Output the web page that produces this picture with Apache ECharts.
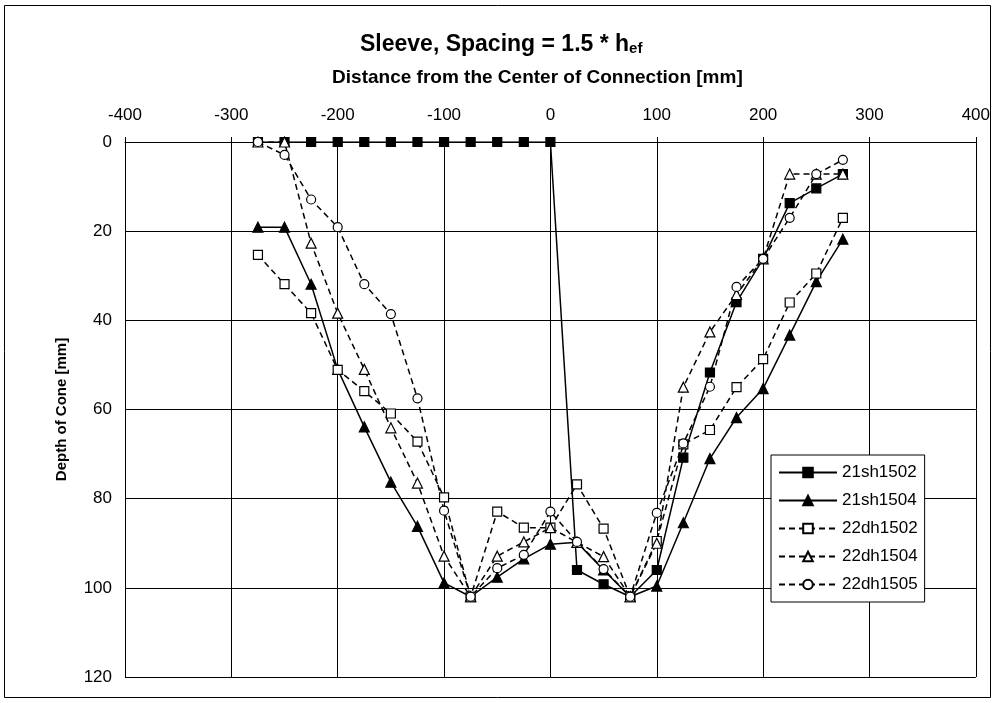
<!DOCTYPE html>
<html>
<head>
<meta charset="utf-8">
<script src="https://cdn.jsdelivr.net/npm/echarts@6/dist/echarts.min.js"></script>
<style>
  html, body { margin: 0; padding: 0; background: #ffffff; }
  #chart { width: 993px; height: 703px; }
</style>
</head>
<body>
<div id="chart"></div>
<script>
// Distance from the center of the connection [mm]
const distances = [-275, -250, -225, -200, -175, -150, -125, -100, -75, -50, -25, 0,
                   25, 50, 75, 100, 125, 150, 175, 200, 225, 250, 275];

// Depth of the cone [mm] for each test
const depth21sh1502 = [0, 0, 0, 0, 0, 0, 0, 0, 0, 0, 0, 0,
                       96, 99.2, 102, 96, 70.8, 51.7, 35.9, 26.2, 13.7, 10.4, 7.2];
const depth21sh1504 = [19.1, 19.1, 31.9, 51, 63.9, 76.3, 86.2, 98.9, 102, 97.6, 93.5, 90.2,
                       89.8, 96, 102, 99.6, 85.4, 71, 61.8, 55.3, 43.3, 31.3, 21.8];
const depth22dh1502 = [25.3, 31.9, 38.4, 51.1, 55.9, 60.9, 67.2, 79.7, 102, 82.9, 86.5, 86.5,
                       76.8, 86.7, 102, 89.5, 67.8, 64.6, 55, 48.7, 36, 29.5, 17];
const depth22dh1504 = [0, 0, 22.7, 38.4, 51, 64.1, 76.5, 92.9, 102, 92.9, 89.7, 86.5,
                       89.8, 93, 102, 90, 55, 42.6, 34.2, 26.2, 7.2, 7.2, 7.2];
const depth22dh1505 = [0, 2.9, 12.9, 19.1, 31.9, 38.6, 57.5, 82.7, 102, 95.6, 92.6, 82.9,
                       89.7, 95.8, 102, 83.2, 67.6, 54.9, 32.5, 26.2, 17, 7.2, 4];

const seriesNames = ['21sh1502', '21sh1504', '22dh1502', '22dh1504', '22dh1505'];

const FONT = 'Liberation Sans, Arial, Helvetica, sans-serif';

function pairs(values) {
  return distances.map((d, i) => [d, values[i]]);
}

function makeSeries(name, values, symbol, size, filled, dashed) {
  return {
    name: name,
    type: 'line',
    data: pairs(values),
    symbol: symbol,
    symbolSize: size,
    showAllSymbol: true,
    animation: false,
    lineStyle: { color: '#000', width: 1.5, type: dashed ? [6, 4] : 'solid' },
    itemStyle: { color: filled ? '#000' : '#fff', borderColor: '#000', borderWidth: 1.2 },
    emphasis: { disabled: true }
  };
}

const chart = echarts.init(document.getElementById('chart'), null, { renderer: 'canvas' });

chart.setOption({
  backgroundColor: '#ffffff',
  animation: false,
  textStyle: { fontFamily: FONT, color: '#000' },
  title: {
    text: '{a|Sleeve, Spacing = 1.5 * h}{b|ef}',
    left: 360,
    top: 29,
    padding: 0,
    textStyle: {
      rich: {
        a: { fontFamily: FONT, fontSize: 23, fontWeight: 'bold', color: '#000', lineHeight: 27, verticalAlign: 'bottom' },
        b: { fontFamily: FONT, fontSize: 15, fontWeight: 'bold', color: '#000', lineHeight: 15, verticalAlign: 'bottom' }
      }
    }
  },
  grid: { left: 125, top: 142, right: 16, bottom: 26, containLabel: false },
  legend: {
    data: seriesNames,
    orient: 'vertical',
    left: 771,
    top: 455,
    padding: [9, 7, 9, 7],
    itemWidth: 58,
    itemHeight: 12,
    itemGap: 11,
    backgroundColor: '#fff',
    borderColor: '#000',
    borderWidth: 1,
    borderRadius: 0,
    selectedMode: false,
    textStyle: { fontFamily: FONT, fontSize: 17, color: '#000' }
  },
  xAxis: {
    type: 'value',
    position: 'top',
    min: -400,
    max: 400,
    interval: 100,
    name: 'Distance from the Center of Connection [mm]',
    nameLocation: 'middle',
    nameGap: 55,
    nameTextStyle: { fontFamily: FONT, fontSize: 19, fontWeight: 'bold', color: '#000', padding: [0, 26, 0, 0] },
    axisLine: { show: true, lineStyle: { color: '#000', width: 1 } },
    axisTick: { show: true, inside: false, length: 5, lineStyle: { color: '#000' } },
    axisLabel: { fontFamily: FONT, fontSize: 17, color: '#000', margin: 18 },
    splitLine: { show: true, lineStyle: { color: '#000', width: 1 } }
  },
  yAxis: {
    type: 'value',
    inverse: true,
    min: 0,
    max: 120,
    interval: 20,
    name: 'Depth of Cone [mm]',
    nameLocation: 'middle',
    nameGap: 56,
    nameRotate: 90,
    nameTextStyle: { fontFamily: FONT, fontSize: 15, fontWeight: 'bold', color: '#000' },
    axisLine: { show: true, lineStyle: { color: '#000', width: 1 } },
    axisTick: { show: true, inside: false, length: 6, lineStyle: { color: '#000' } },
    axisLabel: { fontFamily: FONT, fontSize: 17, color: '#000', margin: 13 },
    splitLine: { show: true, lineStyle: { color: '#000', width: 1 } }
  },
  graphic: [{
    type: 'rect',
    silent: true,
    shape: { x: 4.5, y: 5.5, width: 986, height: 692 },
    style: { fill: 'none', stroke: '#000', lineWidth: 1 }
  }],
  series: [
    makeSeries(seriesNames[0], depth21sh1502, 'rect', 9, true, false),
    makeSeries(seriesNames[1], depth21sh1504, 'triangle', 10, true, false),
    makeSeries(seriesNames[2], depth22dh1502, 'rect', 9, false, true),
    makeSeries(seriesNames[3], depth22dh1504, 'triangle', 10, false, true),
    makeSeries(seriesNames[4], depth22dh1505, 'circle', 9, false, true)
  ]
});
</script>
</body>
</html>
